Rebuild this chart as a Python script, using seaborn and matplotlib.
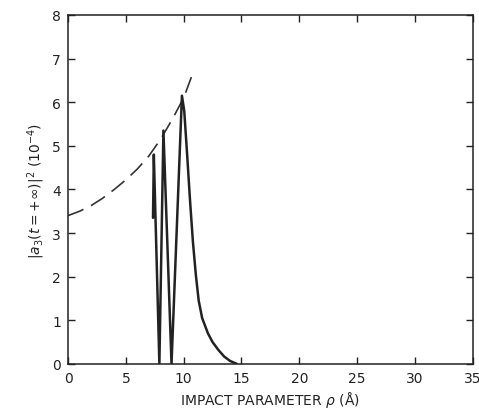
import pandas as pd
import matplotlib
matplotlib.use("Agg")
import matplotlib.pyplot as plt
import seaborn as sns

# Solid curve: |a3|^2 vs impact parameter
rho_solid = [7.35, 7.42, 7.90, 8.25, 8.95, 9.85, 10.05, 10.30, 10.55, 10.80,
             11.05, 11.30, 11.60, 12.10, 12.50, 13.00, 13.50, 14.00, 14.60]
amp_solid = [3.35, 4.80, 0.00, 5.35, 0.00, 6.15, 5.80, 4.80, 3.75, 2.80,
             2.05, 1.45, 1.05, 0.70, 0.50, 0.32, 0.17, 0.07, 0.00]

# Dashed envelope
rho_env = [0, 1, 2, 3, 4, 5, 6, 7, 8, 9, 10, 10.7]
amp_env = [3.40, 3.50, 3.63, 3.80, 4.00, 4.22, 4.47, 4.77, 5.15, 5.60, 6.10, 6.60]

x_ticks = [0, 5, 10, 15, 20, 25, 30, 35]
y_ticks = [0, 1, 2, 3, 4, 5, 6, 7, 8]

sns.set_style("ticks")
plt.rcParams['font.family'] = ['DejaVu Sans']
plt.rcParams['mathtext.fontset'] = 'dejavusans'

fig = plt.figure(figsize=(4.79, 4.10), dpi=100)
ax = fig.add_axes([0.142, 0.110, 0.845, 0.851])

df_solid = pd.DataFrame({"rho": rho_solid, "amp": amp_solid})
df_env = pd.DataFrame({"rho": rho_env, "amp": amp_env})

sns.lineplot(data=df_env, x="rho", y="amp", ax=ax, color="#333333",
             linewidth=1.2, sort=False, estimator=None)
ax.lines[-1].set_dashes((10, 5))
sns.lineplot(data=df_solid, x="rho", y="amp", ax=ax, color="#222222",
             linewidth=1.8, sort=False, estimator=None)

ax.set_xlim(0, 35)
ax.set_ylim(0, 8)
ax.set_xticks(x_ticks)
ax.set_yticks(y_ticks)
ax.tick_params(direction="in", length=5, width=1, top=True, right=True,
               labelsize=10, colors="#222222", pad=5)
for s in ax.spines.values():
    s.set_linewidth(1.1)
    s.set_color("#222222")

ax.set_xlabel("IMPACT PARAMETER $\\rho$ (Å)", fontsize=10, color="#222222", labelpad=3)
ax.set_ylabel("$|a_3(t=+\\infty)|^2$ $(10^{-4})$", fontsize=10, color="#222222", labelpad=4)

fig.savefig("out.png", dpi=100)
